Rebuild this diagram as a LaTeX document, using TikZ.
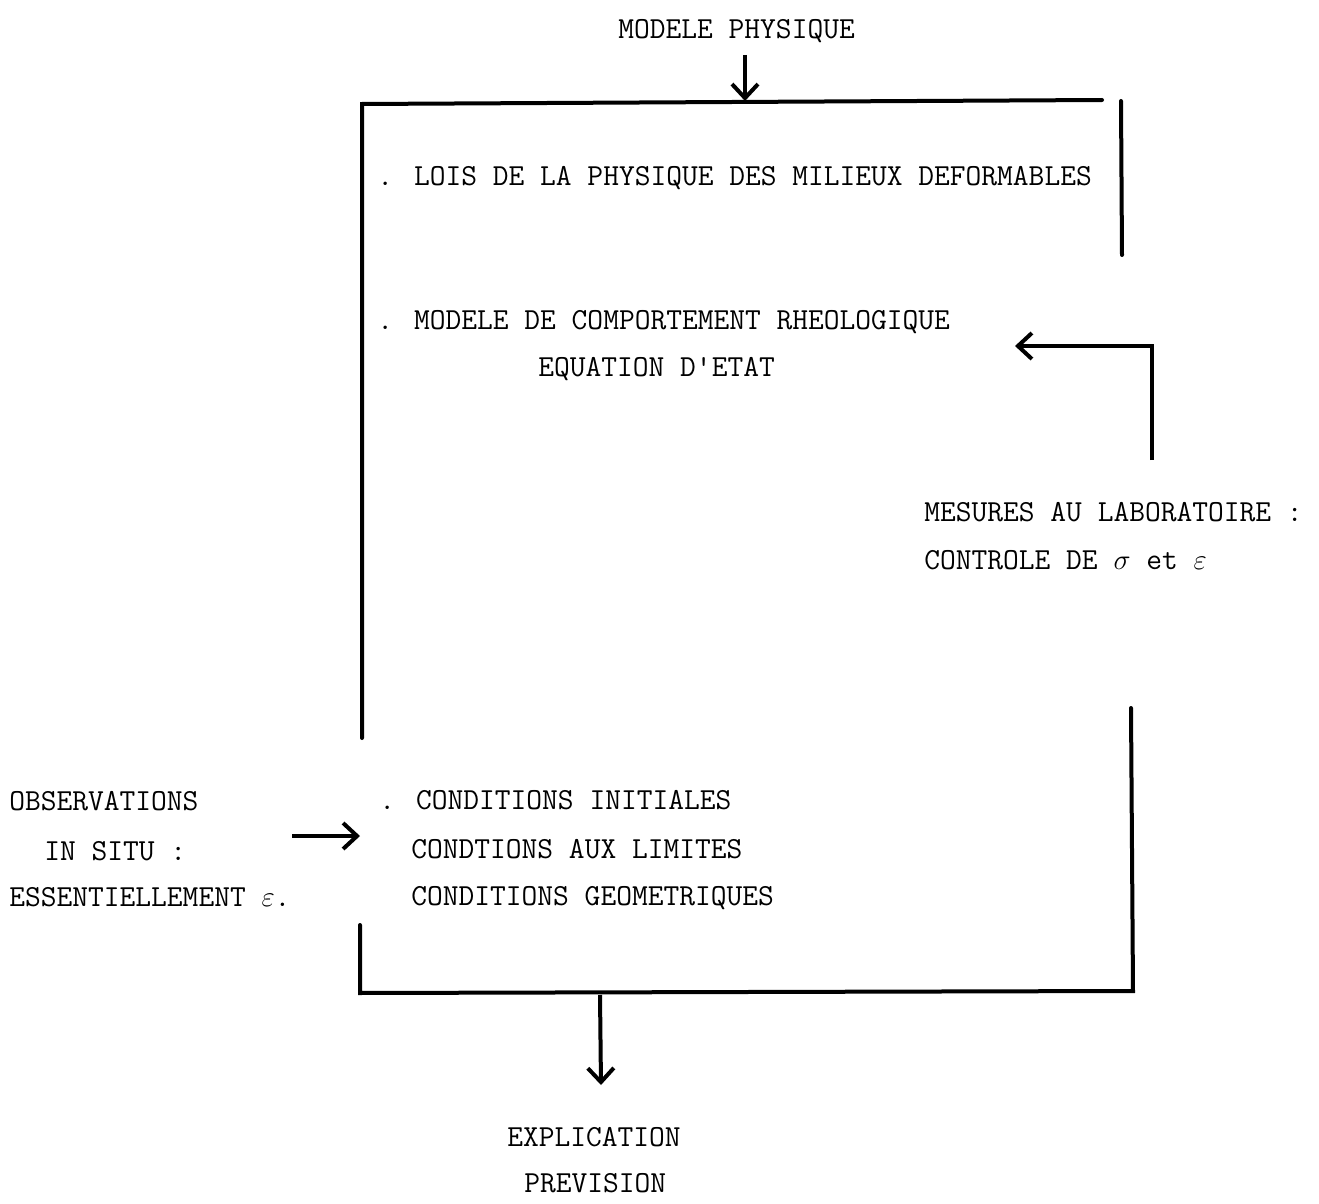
\documentclass[tikz,border=0pt]{standalone}
\usetikzlibrary{arrows.meta}
\begin{document}
\begin{tikzpicture}[x=0.5pt,y=-0.5pt,
  txt/.style={anchor=base west,inner sep=0pt,font=\fontsize{15.3}{18}\selectfont\ttfamily},
  frame/.style={line width=2pt,line cap=round},
  arr/.style={line width=2pt,-{Straight Barb[length=7pt,width=13pt,line width=2pt]}}]
\useasboundingbox (0,0) rectangle (1319,1204);
% texts
\node[txt] (mp) at (618,39) {MODELE PHYSIQUE};
\node[txt] (lois) at (377,185) {. LOIS DE LA PHYSIQUE DES MILIEUX DEFORMABLES};
\node[txt] (comp) at (377,329) {. MODELE DE COMPORTEMENT RHEOLOGIQUE};
\node[txt] (eq) at (538,376) {EQUATION D'ETAT};
\node[txt] (mes) at (924,521) {MESURES AU LABORATOIRE :};
\node[txt] (ctrl) at (924,569) {CONTROLE DE $\sigma$ et $\varepsilon$};
\node[txt] (obs) at (9,810) {OBSERVATIONS};
\node[txt] (situ) at (44,860) {IN SITU :};
\node[txt] (ess) at (9,906) {ESSENTIELLEMENT $\varepsilon$.};
\node[txt] (ci) at (379,809) {. CONDITIONS INITIALES};
\node[txt] (cl) at (411,858) {CONDTIONS AUX LIMITES};
\node[txt] (cg) at (411,905) {CONDITIONS GEOMETRIQUES};
\node[txt] (expl) at (507,1146) {EXPLICATION};
\node[txt] (prev) at (524,1192) {PREVISION};
% frame
\coordinate (tl) at (362,104);
\coordinate (tr) at (1102,100);
\draw[frame] (362,738) -- (tl) -- (tr);
\draw[frame] (1121,101) -- (1122,255);
\draw[frame] (1131,708) -- (1133,991) -- (360,993) -- (360,925);
% arrows
\coordinate (topin) at (745,101);
\draw[arr] (745,55) -- (topin);
\coordinate (corner) at (1152,346);
\coordinate (labin) at (1015,346);
\draw[arr] (1152,460) -- (corner) -- (labin);
\coordinate (obsa) at (292,836);
\coordinate (obsb) at (360,836);
\draw[arr] (obsa) -- (obsb);
\coordinate (bota) at (600,995);
\coordinate (botb) at (601,1085);
\draw[arr] (bota) -- (botb);
\end{tikzpicture}
\end{document}
